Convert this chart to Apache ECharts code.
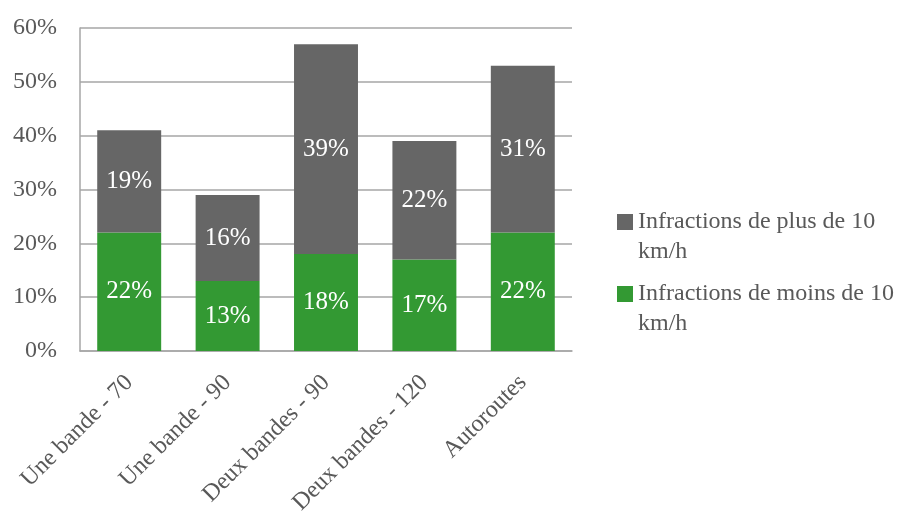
<!DOCTYPE html>
<html>
<head>
<meta charset="utf-8">
<script src="https://cdn.jsdelivr.net/npm/echarts@6/dist/echarts.min.js"></script>
<style>
html, body { margin: 0; padding: 0; background: #fff; }
#chart { width: 911px; height: 516px; }
</style>
</head>
<body>
<div id="chart"></div>
<script>
const categories = ['Une bande - 70', 'Une bande - 90', 'Deux bandes - 90', 'Deux bandes - 120', 'Autoroutes'];
const moinsDe10 = [22, 13, 18, 17, 22];
const plusDe10 = [19, 16, 39, 22, 31];
const seriesNames = ['Infractions de plus de 10 km/h', 'Infractions de moins de 10 km/h'];

const font = 'Liberation Serif';
const textGrey = '#595959';

const chart = echarts.init(document.getElementById('chart'));

const option = {
    backgroundColor: '#fff',
    animation: false,
    grid: {
        left: 80,
        right: 339,
        top: 28,
        bottom: 165,
        outerBoundsMode: 'none'
    },
    legend: {
        orient: 'vertical',
        left: 612,
        top: 175,
        itemWidth: 16,
        itemHeight: 16,
        itemGap: -12,
        icon: 'rect',
        data: seriesNames,
        // empty first line so the square sits level with the first text line
        formatter: name => '{s| }\n{t|' + name.replace(' km/h', '}\n{t|km/h}'),
        textStyle: {
            fontFamily: font,
            fontSize: 24,
            color: textGrey,
            rich: {
                s: { lineHeight: 30, fontSize: 24, fontFamily: font },
                t: { lineHeight: 30, fontSize: 24, fontFamily: font, color: textGrey }
            }
        }
    },
    xAxis: {
        type: 'category',
        data: categories,
        axisLine: { lineStyle: { color: '#a6a6a6', width: 1.5 } },
        axisTick: { show: false },
        axisLabel: {
            rotate: 45,
            interval: 0,
            margin: 28,
            fontFamily: font,
            fontSize: 24,
            color: textGrey
        }
    },
    yAxis: {
        type: 'value',
        min: 0,
        max: 60,
        interval: 10,
        axisLine: { show: true, lineStyle: { color: '#a6a6a6', width: 1.5 } },
        axisTick: { show: false },
        splitLine: { lineStyle: { color: '#a6a6a6', width: 1.5 } },
        axisLabel: {
            formatter: '{value}%',
            margin: 23,
            fontFamily: font,
            fontSize: 24,
            color: textGrey
        }
    },
    series: [
        {
            name: seriesNames[1],
            type: 'bar',
            stack: 'total',
            barWidth: '65%',
            data: moinsDe10,
            itemStyle: { color: '#339933' },
            label: {
                show: true,
                formatter: '{c}%',
                fontFamily: font,
                fontSize: 25,
                color: '#fff'
            }
        },
        {
            name: seriesNames[0],
            type: 'bar',
            stack: 'total',
            barWidth: '65%',
            data: plusDe10,
            itemStyle: { color: '#666666' },
            label: {
                show: true,
                formatter: '{c}%',
                fontFamily: font,
                fontSize: 25,
                color: '#fff'
            }
        }
    ]
};

chart.setOption(option);
</script>
</body>
</html>
